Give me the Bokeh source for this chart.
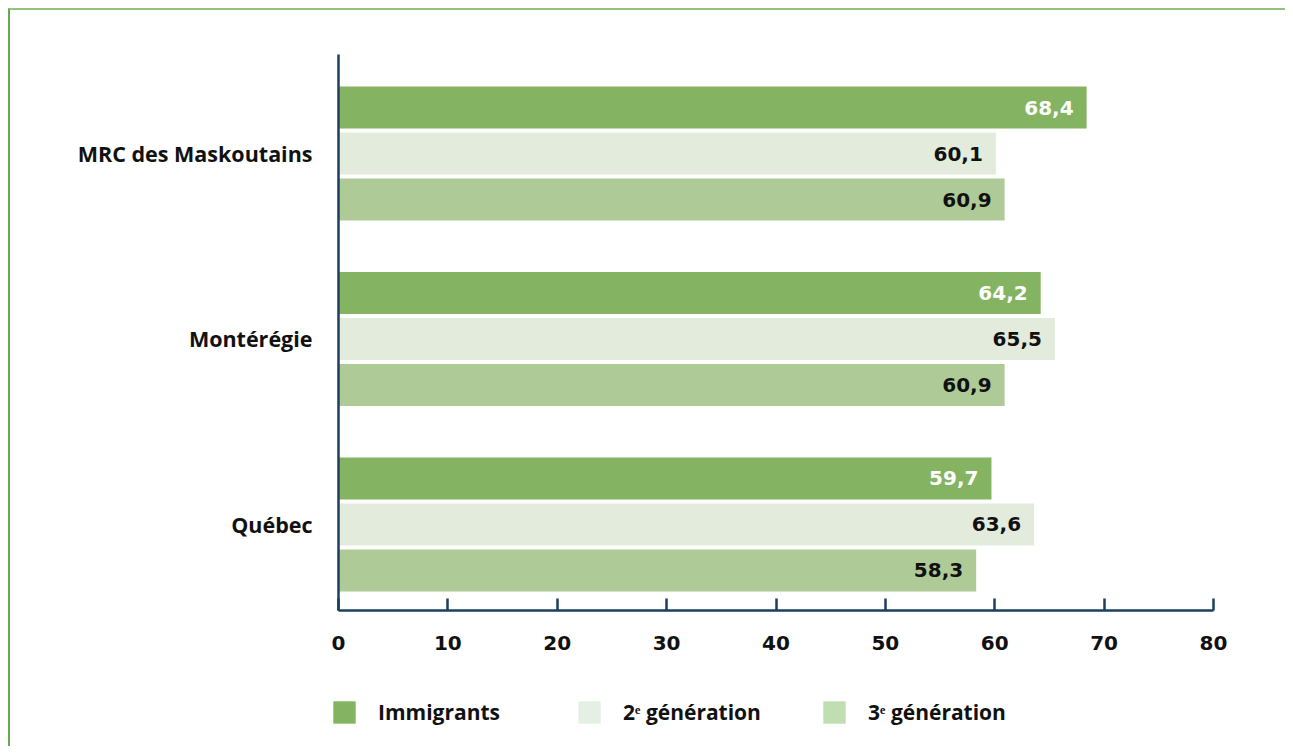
from bokeh.plotting import figure
from bokeh.models import ColumnDataSource, FixedTicker, Legend, LegendItem
from bokeh.layouts import column, row
from bokeh.transform import dodge
from bokeh.core.properties import value
from bokeh.embed import file_html
from bokeh.resources import INLINE

categories = ["MRC des Maskoutains", "Montérégie", "Québec"]
immigrants = [68.4, 64.2, 59.7]
gen2 = [60.1, 65.5, 63.6]
gen3 = [60.9, 60.9, 58.3]
series_names = ["Immigrants", "2ᵉ génération", "3ᵉ génération"]
x_ticks = [0, 10, 20, 30, 40, 50, 60, 70, 80]

bar_colors = ["#84b462", "#e3ecdc", "#adca97"]
legend_colors = ["#84b462", "#e5f0e4", "#c1deb3"]
label_colors = ["#ffffff", "#111111", "#111111"]

def fmt(v):
    return ("%.1f" % v).replace(".", ",")

ypos = [len(categories) - 1 - i for i in range(len(categories))]
src = ColumnDataSource(dict(
    y=ypos,
    imm=immigrants, g2=gen2, g3=gen3,
    imm_t=[fmt(v) for v in immigrants],
    g2_t=[fmt(v) for v in gen2],
    g3_t=[fmt(v) for v in gen3],
))

W = 1275
p = figure(width=W, height=660, output_backend="svg", toolbar_location=None,
           x_range=(0, 80), y_range=(-0.464, 2.534))
p.min_border_left = 328
p.min_border_top = 44
p.min_border_right = 72
p.min_border_bottom = 60
p.outline_line_color = None
p.xgrid.visible = False
p.ygrid.visible = False
p.background_fill_color = "white"
p.border_fill_color = "white"

offs = [0.248, 0.0, -0.248]
fields = ["imm", "g2", "g3"]
H = 0.2264
for f, o, c, lc in zip(fields, offs, bar_colors, label_colors):
    p.hbar(y=dodge("y", o), right=f, left=0, height=H, source=src,
           fill_color=c, line_color=None)
    p.text(x=f, y=dodge("y", o), text=f + "_t", source=src,
           x_offset=-13, text_align="right", text_baseline="middle",
           text_font=value("DejaVu Sans"), text_font_style="bold",
           text_font_size="20px", text_color=lc)

axis_color = "#1d3f5f"
xa = p.xaxis[0]
xa.ticker = FixedTicker(ticks=x_ticks)
xa.axis_line_color = axis_color
xa.axis_line_width = 2.5
xa.major_tick_line_color = axis_color
xa.major_tick_line_width = 2.5
xa.major_tick_in = 12
xa.major_tick_out = 0
xa.minor_tick_line_color = None
xa.major_label_standoff = 25
xa.major_label_text_font = "DejaVu Sans"
xa.major_label_text_font_style = "bold"
xa.major_label_text_font_size = "20px"
xa.major_label_text_color = "#111111"

ya = p.yaxis[0]
ya.ticker = FixedTicker(ticks=ypos)
ya.major_label_overrides = {y: c for y, c in zip(ypos, categories)}
ya.axis_line_color = axis_color
ya.axis_line_width = 2.5
ya.major_tick_line_color = None
ya.minor_tick_line_color = None
ya.major_label_standoff = 20
ya.major_label_text_font = "Open Sans"
ya.major_label_text_font_style = "bold"
ya.major_label_text_font_size = "21.5px"
ya.major_label_text_color = "#111111"

# legend figure (its own frame spans the whole canvas; bars kept out of view)
lf = figure(width=W, height=76, output_backend="svg", toolbar_location=None,
            x_axis_type=None, y_axis_type=None, x_range=(0, 1), y_range=(100, 101))
lf.min_border_left = 0
lf.min_border_right = 0
lf.min_border_top = 0
lf.min_border_bottom = 0
lf.outline_line_color = None
lf.xgrid.visible = False
lf.ygrid.visible = False
lf.background_fill_color = "white"
lf.border_fill_color = "white"

leg_items = []
for name, f, c in zip(series_names, fields, legend_colors):
    r = lf.hbar(y="y", right=f, left=0, height=0.2, source=src,
                fill_color=c, line_color=None)
    leg_items.append(LegendItem(label=name, renderers=[r]))

legend = Legend(items=leg_items, orientation="horizontal", location=(320, 20),
                glyph_width=28, glyph_height=28, label_standoff=20,
                label_width=197, spacing=0, padding=0, margin=0,
                border_line_color=None, background_fill_alpha=0,
                label_text_font="Open Sans", label_text_font_style="bold",
                label_text_font_size="21px", label_text_color="#111111")
lf.add_layout(legend, "center")

layout = column(p, row(lf), spacing=0)
layout.styles = {"margin-top": "8px", "margin-left": "8px",
                 "border-top": "2px solid #93c47d", "border-left": "2px solid #6aa84f"}

open("out.html", "w").write(file_html(layout, INLINE))
